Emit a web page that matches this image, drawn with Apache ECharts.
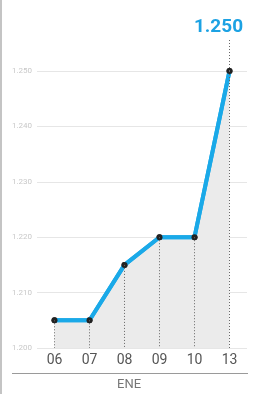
<!DOCTYPE html>
<html><head><meta charset="utf-8">
<script src="https://cdn.jsdelivr.net/npm/echarts@6/dist/echarts.min.js"></script>
<style>html,body{margin:0;padding:0;background:#fff}#c{width:260px;height:394px}</style>
</head><body><div id="c"></div>
<script>
var categories = ['06','07','08','09','10','13'];
var values = [1205, 1205, 1215, 1220, 1220, 1250];
var axisName = 'ENE';
var yMin = 1200, yStep = 10;
var yTop = 1255.6;

function fmt(v){ return String(v).replace(/\B(?=(\d{3})+(?!\d))/g, '.'); }

var last = values.length - 1;
var seriesData = values.map(function(v, i){
  if (i === last) {
    return { value: v, label: { show: true, formatter: fmt(v), position: 'top', distance: 31, offset: [-11, 0],
      color: '#1ca2e3', fontSize: 19, fontWeight: 'bold', fontFamily: 'Roboto' } };
  }
  return v;
});
var drops = values.map(function(v, i){ return [{ coord: [i, v] }, { coord: [i, yMin] }]; });
drops.push([{ coord: [last, values[last]] }, { coord: [last, yTop] }]);

var chart = echarts.init(document.getElementById('c'), null, { renderer: 'canvas' });
chart.setOption({
  animation: false,
  grid: { left: 37, right: 13, top: 40, bottom: 46 },
  xAxis: {
    type: 'category', data: categories, boundaryGap: true,
    axisLine: { show: false }, axisTick: { show: false },
    axisLabel: { color: '#555', fontSize: 14, fontFamily: 'Roboto', margin: 5 }
  },
  yAxis: {
    type: 'value', min: yMin, max: yTop, interval: yStep,
    axisLine: { show: false }, axisTick: { show: false },
    axisLabel: { color: '#c8c8c8', fontSize: 8, fontFamily: 'Roboto', margin: 5, formatter: fmt, showMaxLabel: false },
    splitLine: { showMaxLine: false, lineStyle: { color: '#e6e6e6', width: 1 } }
  },
  graphic: [
    { type: 'rect', shape: { x: 0, y: 0, width: 2, height: 394 }, style: { fill: '#c4c4c4' } },
    { type: 'line', shape: { x1: 12, y1: 373.5, x2: 248, y2: 373.5 }, style: { stroke: '#9a9a9a', lineWidth: 1 } },
    { type: 'text', left: 117, top: 378, style: { text: axisName, fill: '#777', fontSize: 13, fontFamily: 'Roboto' } }
  ],
  series: [{
    type: 'line', data: seriesData,
    symbol: 'circle', symbolSize: 6,
    itemStyle: { color: '#222' },
    lineStyle: { color: '#1aa9e8', width: 4 },
    areaStyle: { color: '#ebebeb', opacity: 1, origin: 'start' },
    markLine: {
      silent: true, symbol: ['none', 'none'], label: { show: false },
      lineStyle: { color: '#666', type: [1, 2], width: 1 },
      data: drops
    }
  }, {
    type: 'line', data: values, symbol: 'circle', symbolSize: 6, z: 4,
    itemStyle: { color: '#222' }, lineStyle: { color: '#1aa9e8', width: 4 }
  }]
});
</script></body></html>
